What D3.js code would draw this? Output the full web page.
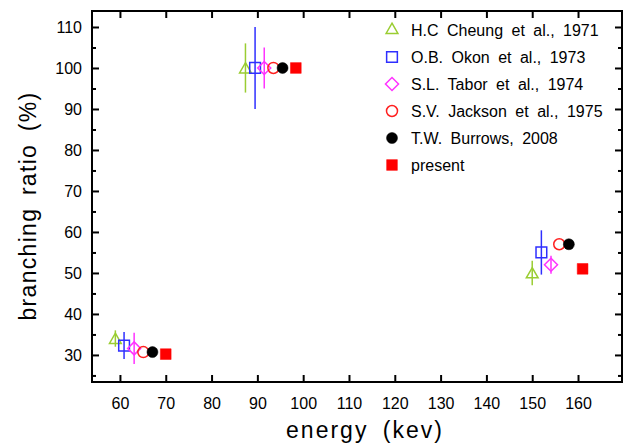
<!DOCTYPE html>
<html>
<head>
<meta charset="utf-8">
<script src="https://cdn.jsdelivr.net/npm/d3@7"></script>
<style>
  body { margin: 0; background: #fff; }
  text { font-family: "Liberation Sans", "DejaVu Sans", sans-serif; }
</style>
</head>
<body>
<svg width="632" height="446"></svg>
<script>
// data
var seriesNames = ["H.C Cheung et al., 1971", "O.B. Okon et al., 1973", "S.L. Tabor et al., 1974",
                   "S.V. Jackson et al., 1975", "T.W. Burrows, 2008", "present"];

var energyCheung = [59.0, 87.4, 150.0];
var ratioCheung  = [34.0, 100, 50];
var errCheung    = [2, 6, 3];

var energyOkon = [60.9, 89.5, 152.0];
var ratioOkon  = [32.3, 100, 55];
var errOkon    = [3.3, 10, 5.4];

var energyTabor = [63.1, 91.5, 154.1];
var ratioTabor  = [31.6, 100, 52];
var errTabor    = [3.8, 5, 2.2];

var energyJackson = [65.1, 93.5, 155.9];
var ratioJackson  = [30.7, 100, 57];

var energyBurrows = [67.1, 95.5, 158.0];
var ratioBurrows  = [30.7, 100, 57];

var energyPresent = [70.0, 98.4, 161.0];
var ratioPresent  = [30.2, 100, 51];

var xTicks = [60, 70, 80, 90, 100, 110, 120, 130, 140, 150, 160];
var yTicks = [30, 40, 50, 60, 70, 80, 90, 100, 110];
var yMinor = [25, 35, 45, 55, 65, 75, 85, 95, 105];

var svg = d3.select("svg"),
    margin = {top: 11, right: 10, bottom: 64, left: 92},
    width = +svg.attr("width") - margin.left - margin.right,
    height = +svg.attr("height") - margin.top - margin.bottom,
    g = svg.append("g").attr("transform", "translate(" + margin.left + "," + margin.top + ")");

var x = d3.scaleLinear().domain([53.9, 169.6]).range([0, width]);
var y = d3.scaleLinear().domain([23.4, 113.9]).range([height, 0]);

// ticks on all four sides, pointing inward
function styleAxis(sel) {
  sel.select(".domain").remove();
  sel.selectAll("line").attr("stroke", "#000").attr("stroke-width", 2);
  sel.selectAll("text").attr("fill", "#000").attr("font-size", 16);
}

g.append("g")
  .attr("transform", "translate(0," + height + ")")
  .call(d3.axisBottom(x).tickValues(xTicks).tickSize(-7).tickPadding(16).tickFormat(d3.format("d")))
  .call(styleAxis);
g.append("g")
  .call(d3.axisTop(x).tickValues(xTicks).tickSize(-7).tickFormat(""))
  .call(styleAxis);
g.append("g")
  .call(d3.axisLeft(y).tickValues(yTicks).tickSize(-7).tickPadding(10).tickFormat(d3.format("d")))
  .call(styleAxis);
g.append("g")
  .call(d3.axisLeft(y).tickValues(yMinor).tickSize(-4).tickFormat(""))
  .call(styleAxis);
g.append("g")
  .attr("transform", "translate(" + width + ",0)")
  .call(d3.axisRight(y).tickValues(yTicks).tickSize(-7).tickFormat(""))
  .call(styleAxis);
g.append("g")
  .attr("transform", "translate(" + width + ",0)")
  .call(d3.axisRight(y).tickValues(yMinor).tickSize(-4).tickFormat(""))
  .call(styleAxis);

g.append("rect")
  .attr("width", width).attr("height", height)
  .attr("fill", "none").attr("stroke", "#000").attr("stroke-width", 2);

// axis titles
svg.append("text")
  .attr("x", 365).attr("y", 438)
  .attr("text-anchor", "middle").attr("font-size", 23)
  .attr("letter-spacing", 2).attr("word-spacing", 6)
  .text("energy (kev)");
svg.append("text")
  .attr("transform", "translate(36,206) rotate(-90)")
  .attr("text-anchor", "middle").attr("font-size", 23)
  .attr("letter-spacing", 1.3).attr("word-spacing", 5)
  .text("branching ratio (%)");

// marker shapes
var diamond = {
  draw: function(ctx, size) {
    var r = Math.sqrt(size / 2);
    ctx.moveTo(0, -r); ctx.lineTo(r, 0); ctx.lineTo(0, r); ctx.lineTo(-r, 0); ctx.closePath();
  }
};
var sym = {
  triangle: d3.symbol().type(d3.symbolTriangle).size(60),
  square: d3.symbol().type(d3.symbolSquare).size(115),
  diamond: d3.symbol().type(diamond).size(85),
  circle: d3.symbol().type(d3.symbolCircle).size(95)
};

var series = [
  {e: energyCheung, r: ratioCheung, err: errCheung, shape: "triangle", color: "#9acd32", fill: false},
  {e: energyOkon, r: ratioOkon, err: errOkon, shape: "square", color: "#2f2fff", fill: false},
  {e: energyTabor, r: ratioTabor, err: errTabor, shape: "diamond", color: "#ff33ff", fill: false},
  {e: energyJackson, r: ratioJackson, err: null, shape: "circle", color: "#ff2020", fill: false},
  {e: energyBurrows, r: ratioBurrows, err: null, shape: "circle", color: "#000", fill: true},
  {e: energyPresent, r: ratioPresent, err: null, shape: "square", color: "#ff0000", fill: true}
];

function marker(sel, s) {
  sel.attr("d", sym[s.shape])
    .attr("fill", s.fill ? s.color : "none")
    .attr("stroke", s.color)
    .attr("stroke-width", s.fill ? 0.5 : 1.5);
}

series.forEach(function(s) {
  var pts = s.e.map(function(e, i) { return {e: e, r: s.r[i], err: s.err ? s.err[i] : 0}; });
  var grp = g.append("g");
  grp.selectAll("line")
    .data(pts.filter(function(d) { return d.err > 0; }))
    .enter().append("line")
    .attr("x1", function(d) { return x(d.e); })
    .attr("x2", function(d) { return x(d.e); })
    .attr("y1", function(d) { return y(d.r - d.err); })
    .attr("y2", function(d) { return y(d.r + d.err); })
    .attr("stroke", s.color).attr("stroke-width", 1.5);
  grp.selectAll("path")
    .data(pts)
    .enter().append("path")
    .attr("transform", function(d) {
      var dy = s.shape === "triangle" ? 1.5 : 0;
      return "translate(" + x(d.e) + "," + (y(d.r) + dy) + ")";
    })
    .call(marker, s);
});

// legend
var legend = svg.append("g")
  .selectAll("g")
  .data(series)
  .enter().append("g")
  .attr("transform", function(d, i) { return "translate(392," + (30 + i * 27) + ")"; });

legend.append("path")
  .each(function(s) { d3.select(this).call(marker, s); });

legend.append("text")
  .attr("x", 19).attr("dy", "0.35em")
  .attr("font-size", 16).attr("word-spacing", 4)
  .text(function(d, i) { return seriesNames[i]; });
</script>
</body>
</html>
